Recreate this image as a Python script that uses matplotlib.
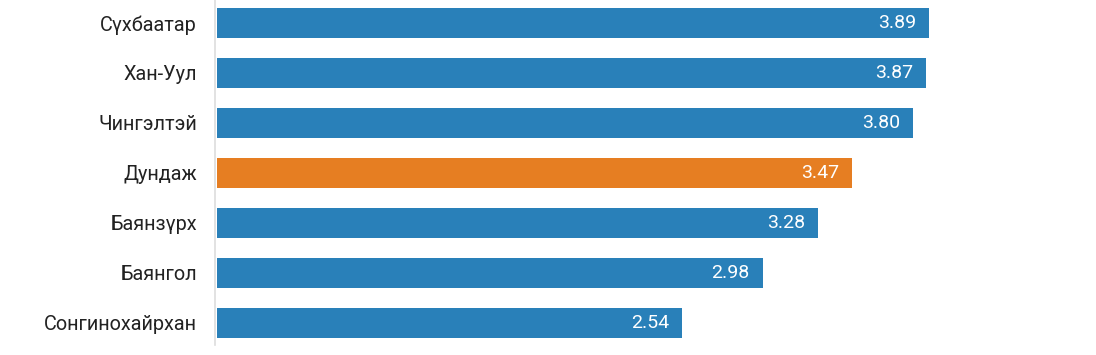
import matplotlib.pyplot as plt

plt.rcParams['font.family'] = ['Roboto', 'DejaVu Sans']

# Data
districts = ['Сүхбаатар', 'Хан-Уул', 'Чингэлтэй', 'Дундаж', 'Баянзүрх', 'Баянгол', 'Сонгинохайрхан']
scores = [3.89, 3.87, 3.80, 3.47, 3.28, 2.98, 2.54]
highlight = 'Дундаж'

blue = '#2980b9'
orange = '#e67e22'
colors = [orange if d == highlight else blue for d in districts]

fig = plt.figure(figsize=(10.96, 3.55), dpi=100)
ax = fig.add_axes([215 / 1096, 10 / 355, 1 - 215 / 1096, 345 / 355])

y = list(range(len(districts)))
ax.barh(y, scores, height=0.6, color=colors, left=0.01)

for yi, v in zip(y, scores):
    ax.text(v - 0.06, yi, f'{v:.2f}', color='white', ha='right', va='center',
            fontsize=14)

ax.set_yticks(y)
ax.set_yticklabels(districts, fontsize=14.3, color='#222222')
ax.set_ylim(len(districts) - 0.55, -0.46)
ax.set_xlim(0, 4.81)

for s in ['top', 'right', 'bottom']:
    ax.spines[s].set_visible(False)
ax.spines['left'].set_color('#dddddd')
ax.spines['left'].set_linewidth(1.2)
ax.tick_params(axis='y', length=0, pad=13)
ax.tick_params(axis='x', bottom=False, labelbottom=False)

fig.savefig('out.png', dpi=100)
